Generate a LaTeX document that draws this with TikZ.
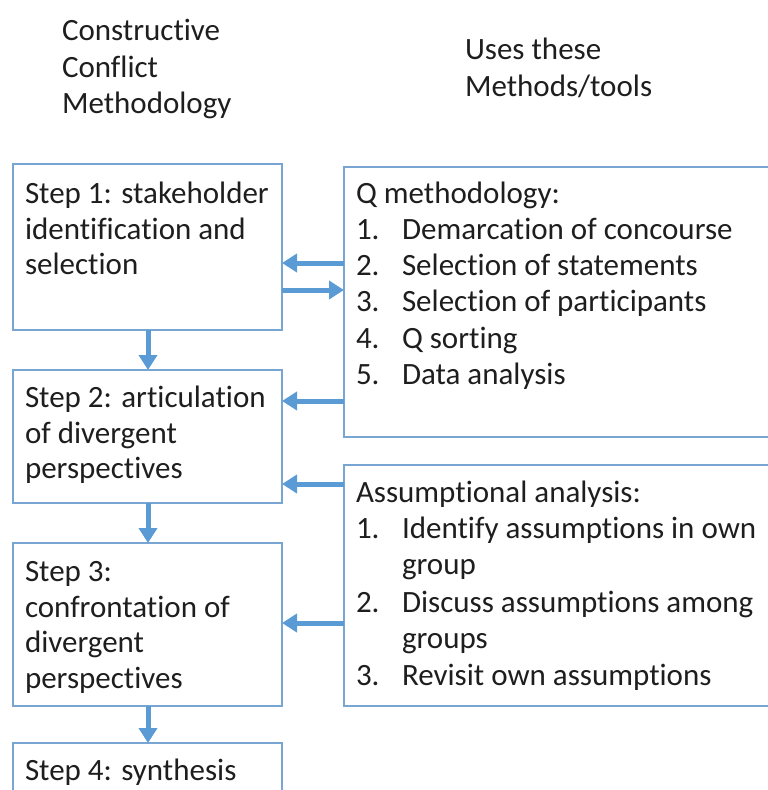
\documentclass[tikz,border=0pt]{standalone}
\usepackage{fontspec}
\setmainfont{Carlito}[RawFeature=-liga]
\usetikzlibrary{arrows.meta}
\definecolor{boxblue}{RGB}{120,165,210}
\definecolor{arrblue}{RGB}{91,155,213}
\definecolor{txt}{RGB}{30,30,30}
\tikzset{
  box/.style={draw=boxblue, line width=1.3pt, inner sep=0pt, outer sep=0pt, anchor=north west},
  arr/.style={draw=arrblue, line width=5pt, -{Triangle[length=15pt,width=18pt]}},
  lbl/.style={anchor=base west, inner sep=0pt, outer sep=0pt, text=txt, font=\fontsize{31}{36}\selectfont},
}
\begin{document}
\begin{tikzpicture}[x=1pt,y=-1pt]
\useasboundingbox (0,0) rectangle (768,790);
\clip (0,0) rectangle (768,790);
% boxes
\node[box, minimum width=269pt, minimum height=166pt] (s1) at (13,164) {};
\node[box, minimum width=269pt, minimum height=133pt] (s2) at (13,370) {};
\node[box, minimum width=269pt, minimum height=163pt] (s3) at (13,543) {};
\node[box, minimum width=269pt, minimum height=100pt] (s4) at (13,743) {};
\node[box, minimum width=440pt, minimum height=270pt] (q) at (344,167) {};
\node[box, minimum width=440pt, minimum height=241pt] (a) at (344,465) {};
% headings
\node[lbl] (h1) at (62,40) {Constructive};
\node[lbl] (h2) at (62,77) {Conflict};
\node[lbl] (h3) at (62,113) {Methodology};
\node[lbl] (h4) at (465,59) {Uses these};
\node[lbl] (h5) at (465,96) {Methods/tools};
% step texts
\node[lbl] (t11) at (25,203) {Step 1: stakeholder};
\node[lbl] (t12) at (25,239) {identification and};
\node[lbl] (t13) at (25,274) {selection};
\node[lbl] (t21) at (25,407) {Step 2: articulation};
\node[lbl] (t22) at (25,443) {of divergent};
\node[lbl] (t23) at (25,478) {perspectives};
\node[lbl] (t31) at (25,581) {Step 3:};
\node[lbl] (t32) at (25,617) {confrontation of};
\node[lbl] (t33) at (25,652) {divergent};
\node[lbl] (t34) at (25,688) {perspectives};
\node[lbl] (t41) at (25,780) {Step 4: synthesis};
% Q methodology
\node[lbl] (q0) at (356,203) {Q methodology:};
\node[lbl] (qn1) at (356,239) {1.};
\node[lbl] (qi1) at (402,239) {Demarcation of concourse};
\node[lbl] (qn2) at (356,275) {2.};
\node[lbl] (qi2) at (402,275) {Selection of statements};
\node[lbl] (qn3) at (356,311) {3.};
\node[lbl] (qi3) at (402,311) {Selection of participants};
\node[lbl] (qn4) at (356,348) {4.};
\node[lbl] (qi4) at (402,348) {Q sorting};
\node[lbl] (qn5) at (356,384) {5.};
\node[lbl] (qi5) at (402,384) {Data analysis};
% Assumptional analysis
\node[lbl] (a0) at (356,502) {Assumptional analysis:};
\node[lbl] (an1) at (356,538) {1.};
\node[lbl] (ai1) at (402,538) {Identify assumptions in own};
\node[lbl] (ai1b) at (402,574) {group};
\node[lbl] (an2) at (356,612) {2.};
\node[lbl] (ai2) at (402,612) {Discuss assumptions among};
\node[lbl] (ai2b) at (402,648) {groups};
\node[lbl] (an3) at (356,685) {3.};
\node[lbl] (ai3) at (402,685) {Revisit own assumptions};
% arrows
\draw[arr] (q.west |- 0,263) -- (s1.east |- 0,263);
\draw[arr] (s1.east |- 0,290) -- (q.west |- 0,290);
\draw[arr] (q.west |- 0,401) -- (s2.east |- 0,401);
\draw[arr] (a.west |- 0,484) -- (s2.east |- 0,484);
\draw[arr] (a.west |- 0,623) -- (s3.east |- 0,623);
\draw[arr] (s1.south -| 148,0) -- (s2.north -| 148,0);
\draw[arr] (s2.south -| 148,0) -- (s3.north -| 148,0);
\draw[arr] (s3.south -| 148,0) -- (s4.north -| 148,0);
\end{tikzpicture}
\end{document}
